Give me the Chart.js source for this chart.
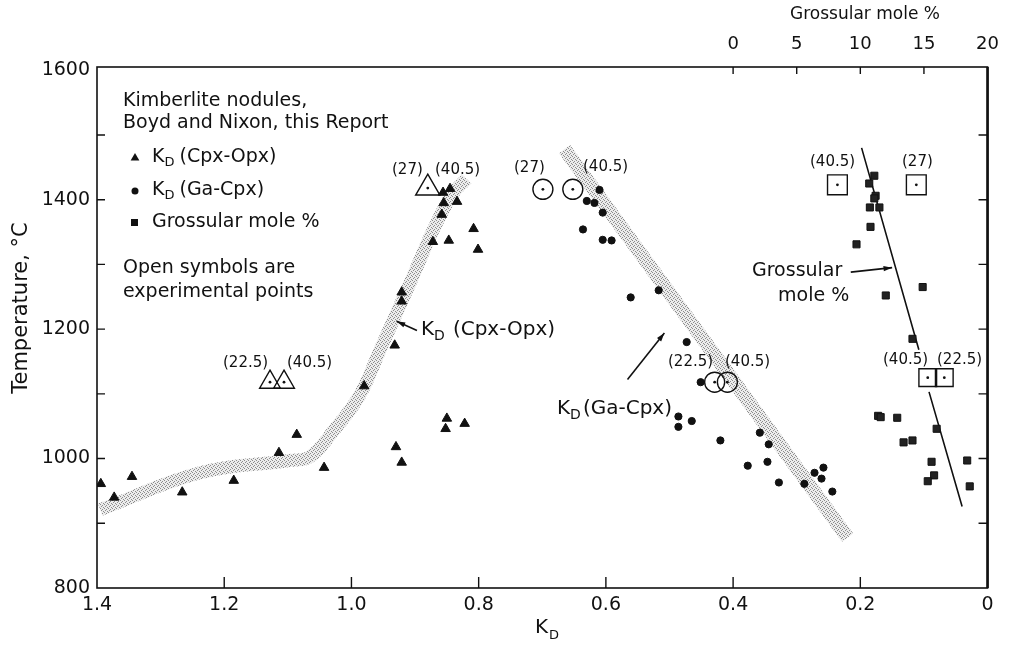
<!DOCTYPE html>
<html>
<head>
<meta charset="utf-8">
<script src="https://cdn.jsdelivr.net/npm/chart.js@4.4.1/dist/chart.umd.min.js"></script>
<style>
  html, body { margin: 0; padding: 0; background: #fff; }
  #wrap { width: 1011px; height: 648px; }
</style>
</head>
<body>
<div id="wrap"><canvas id="c" width="1011" height="648"></canvas></div>
<script>
// --- tick values
const kdTicks = [1.4, 1.2, 1.0, 0.8, 0.6, 0.4, 0.2, 0];
const grossTicks = [0, 5, 10, 15, 20];
const tempTicks = [800, 900, 1000, 1100, 1200, 1300, 1400, 1500, 1600];

// --- K_D (Cpx-Opx), kimberlite nodules (filled triangles)
const cpxOpxKd = [1.394, 1.373, 1.345, 1.266, 1.185, 1.114, 1.086, 1.043, 0.980, 0.932, 0.921, 0.921, 0.930, 0.921,
                  0.850, 0.852, 0.822, 0.872, 0.847, 0.858, 0.855, 0.834, 0.856, 0.845, 0.808, 0.801];
const cpxOpxT  = [961, 940, 972, 948, 966, 1009, 1037, 986, 1112, 1175, 1257, 1243, 1018, 994,
                  1062, 1046, 1054, 1335, 1337, 1377, 1395, 1397, 1411, 1417, 1355, 1323];

// --- K_D (Ga-Cpx) (filled circles)
const gaCpxKd = [0.610, 0.630, 0.618, 0.605, 0.636, 0.605, 0.591, 0.517, 0.561, 0.473, 0.451, 0.486, 0.486, 0.465,
                 0.420, 0.358, 0.344, 0.377, 0.346, 0.328, 0.288, 0.272, 0.258, 0.261, 0.244];
const gaCpxT  = [1415, 1398, 1395, 1380, 1354, 1338, 1337, 1260, 1249, 1180, 1118, 1065, 1049, 1058,
                 1028, 1040, 1022, 989, 995, 963, 961, 978, 986, 969, 949];

// --- grossular mole % (filled squares, top axis)
const grossG = [11.1, 10.7, 11.2, 11.1, 10.75, 11.5, 10.8, 9.7, 14.9, 12.0, 14.1, 11.4, 11.6, 12.9, 13.4, 14.1,
                16.0, 15.6, 15.8, 15.3, 18.4, 18.6];
const grossT = [1437, 1425, 1406, 1402, 1388, 1388, 1358, 1331, 1265, 1252, 1185, 1066, 1064, 1063, 1025, 1028,
                1046, 995, 974, 965, 997, 957];

// --- experimental points (open symbols)
const expTriKd = [1.128, 1.106, 0.880];
const expTriT  = [1118, 1118, 1418];
const expCircKd = [0.699, 0.652, 0.429, 0.409];
const expCircT  = [1416, 1416, 1118, 1118];
const expSqG = [8.2, 14.4, 15.3, 16.6];
const expSqT = [1423, 1423, 1125, 1125];

// --- trend bands / line
const cpxOpxBandKd = [1.395, 1.238, 1.097, 1.065, 1.029, 0.987, 0.955, 0.904, 0.872, 0.841, 0.819];
const cpxOpxBandT  = [921, 978, 997, 1003, 1042, 1098, 1168, 1280, 1352, 1409, 1432];
const gaCpxBandKd = [0.665, 0.220];
const gaCpxBandT  = [1478, 878];
const grossLineG = [10.1, 14.6, null, 15.4, 18.0];
const grossLineT = [1480, 1168, null, 1103, 926];

const pts = (xs, ys) => xs.map((x, i) => ({ x: x, y: ys[i] }));

const canvas = document.getElementById('c');
const ctx0 = canvas.getContext('2d');

// stippled grey for the bands
function stipple() {
  const c = document.createElement('canvas');
  c.width = 4; c.height = 4;
  const g = c.getContext('2d');
  g.fillStyle = '#ececec'; g.fillRect(0, 0, 4, 4);
  g.fillStyle = '#8c8c8c';
  [[0, 0], [2, 1], [1, 2], [3, 3]].forEach(([a, b]) => g.fillRect(a, b, 1, 1));
  return ctx0.createPattern(c, 'repeat');
}
const band = stipple();

const FONT = '"DejaVu Sans", "Liberation Sans", sans-serif';
const INK = '#111';

// text pieces drawn on top (pixel positions)
const notes = [
  ['Grossular mole %', 790, 15, 17],
  ['Kimberlite nodules,', 123, 101, 19],
  ['Boyd and Nixon, this Report', 123, 123, 19],
  ['Grossular mole %', 152, 222, 19],
  ['Open symbols are', 123, 268, 19],
  ['experimental points', 123, 292, 19],
  ['Grossular', 752, 271, 19],
  ['mole %', 778, 296, 19],
  ['(22.5)', 223, 363, 15], ['(40.5)', 287, 363, 15],
  ['(27)', 392, 170, 15], ['(40.5)', 435, 170, 15],
  ['(27)', 514, 168, 15], ['(40.5)', 583, 167, 15],
  ['(22.5)', 668, 362, 15], ['(40.5)', 725, 362, 15],
  ['(40.5)', 810, 162, 15], ['(27)', 902, 162, 15],
  ['(40.5)', 883, 360, 15], ['(22.5)', 937, 360, 15]
];
// K_D labels: [rest, x, y, size, gap]
const kdNotes = [
  ['(Cpx-Opx)', 152, 157, 19, 5],
  ['(Ga-Cpx)', 152, 190, 19, 5],
  ['(Cpx-Opx)', 421, 330, 20, 8],
  ['(Ga-Cpx)', 557, 409, 20, 2]
];
// arrows in data units: [axis, x0, y0, x1(tip), y1(tip)]
const arrows = [
  ['x', 0.897, 1198, 0.929, 1212],
  ['x', 0.566, 1122, 0.508, 1194],
  ['xG', 9.25, 1288, 12.5, 1295]
];

const decor = {
  id: 'decor',
  afterDraw(chart) {
    const { ctx, chartArea: a, scales } = chart;
    const X = scales.x, G = scales.xG, Y = scales.y;
    ctx.save();
    ctx.strokeStyle = INK;
    ctx.fillStyle = INK;

    // frame
    ctx.lineWidth = 1.6;
    ctx.strokeRect(a.left, a.top, a.right - a.left, a.bottom - a.top);
    ctx.lineWidth = 2.6;
    ctx.beginPath(); ctx.moveTo(a.right, a.top); ctx.lineTo(a.right, a.bottom); ctx.stroke();

    // inward ticks
    ctx.lineWidth = 1.4;
    ctx.beginPath();
    kdTicks.slice(1, -1).forEach(v => {
      const px = X.getPixelForValue(v);
      ctx.moveTo(px, a.bottom); ctx.lineTo(px, a.bottom - 11);
    });
    grossTicks.slice(0, -1).forEach(v => {
      const px = G.getPixelForValue(v);
      ctx.moveTo(px, a.top); ctx.lineTo(px, a.top + 7);
    });
    tempTicks.slice(1, -1).forEach(v => {
      const py = Y.getPixelForValue(v);
      ctx.moveTo(a.left, py); ctx.lineTo(a.left + 8, py);
      ctx.moveTo(a.right, py); ctx.lineTo(a.right - 9, py);
    });
    ctx.stroke();

    // axis titles
    ctx.font = '21px ' + FONT;
    ctx.textAlign = 'center'; ctx.textBaseline = 'middle';
    ctx.save();
    ctx.translate(22, 308);
    ctx.rotate(-Math.PI / 2);
    ctx.fillText('Temperature, \u00B0C', 0, 0);
    ctx.restore();
    ctx.font = '20px ' + FONT;
    ctx.textAlign = 'left';
    ctx.fillText('K', 535, 628);
    ctx.font = '13px ' + FONT;
    ctx.fillText('D', 549, 636);

    // notes
    ctx.textAlign = 'left'; ctx.textBaseline = 'middle';
    notes.forEach(([t, x, y, s]) => {
      ctx.font = s + 'px ' + FONT;
      ctx.fillText(t, x, y);
    });
    kdNotes.forEach(([t, x, y, s, gap]) => {
      ctx.font = s + 'px ' + FONT;
      ctx.fillText('K', x, y);
      const kw = ctx.measureText('K').width;
      ctx.font = Math.round(s * 0.68) + 'px ' + FONT;
      ctx.fillText('D', x + kw, y + 6);
      const dw = ctx.measureText('D').width;
      ctx.font = s + 'px ' + FONT;
      ctx.fillText(t, x + kw + dw + gap, y);
    });

    // legend symbols
    const tri = (x, y, r) => {
      ctx.beginPath();
      ctx.moveTo(x, y - r); ctx.lineTo(x + r * 0.87, y + r * 0.5); ctx.lineTo(x - r * 0.87, y + r * 0.5);
      ctx.closePath(); ctx.fill();
    };
    tri(135, 158, 5);
    ctx.beginPath(); ctx.arc(135, 191, 3.5, 0, Math.PI * 2); ctx.fill();
    ctx.fillRect(131, 219, 7, 7);

    // arrows
    ctx.lineWidth = 1.6;
    arrows.forEach(([ax, x0, y0, x1, y1]) => {
      const S = scales[ax];
      const p0x = S.getPixelForValue(x0), p0y = Y.getPixelForValue(y0);
      const p1x = S.getPixelForValue(x1), p1y = Y.getPixelForValue(y1);
      const ang = Math.atan2(p1y - p0y, p1x - p0x);
      ctx.beginPath(); ctx.moveTo(p0x, p0y); ctx.lineTo(p1x, p1y); ctx.stroke();
      ctx.beginPath();
      ctx.moveTo(p1x, p1y);
      ctx.lineTo(p1x - 9 * Math.cos(ang - 0.3), p1y - 9 * Math.sin(ang - 0.3));
      ctx.lineTo(p1x - 9 * Math.cos(ang + 0.3), p1y - 9 * Math.sin(ang + 0.3));
      ctx.closePath(); ctx.fill();
    });
    ctx.restore();
  }
};

const tickFont = { family: FONT, size: 19 };

new Chart(canvas, {
  type: 'scatter',
  data: {
    datasets: [
      { data: pts(cpxOpxBandKd, cpxOpxBandT), showLine: true, borderColor: band, borderWidth: 13,
        pointRadius: 0, tension: 0.4, order: 10 },
      { data: pts(gaCpxBandKd, gaCpxBandT), showLine: true, borderColor: band, borderWidth: 14,
        pointRadius: 0, order: 10 },
      { data: pts(grossLineG, grossLineT), xAxisID: 'xG', showLine: true, spanGaps: false,
        borderColor: INK, borderWidth: 1.6, pointRadius: 0, order: 5 },
      { data: pts(cpxOpxKd, cpxOpxT), pointStyle: 'triangle', pointRadius: 5.5,
        backgroundColor: INK, borderColor: INK, borderWidth: 1, order: 1 },
      { data: pts(gaCpxKd, gaCpxT), pointStyle: 'circle', pointRadius: 3.6,
        backgroundColor: INK, borderColor: INK, borderWidth: 1, order: 1 },
      { data: pts(grossG, grossT), xAxisID: 'xG', pointStyle: 'rect', pointRadius: 5,
        backgroundColor: '#222', borderColor: INK, borderWidth: 1, order: 1 },
      { data: pts(expTriKd, expTriT), pointStyle: 'triangle', pointRadius: [12, 12, 14],
        backgroundColor: 'rgba(255,255,255,0)', borderColor: INK, borderWidth: 1.4, order: 2 },
      { data: pts(expCircKd, expCircT), pointStyle: 'circle', pointRadius: 10,
        backgroundColor: 'rgba(255,255,255,0)', borderColor: INK, borderWidth: 1.4, order: 2 },
      { data: pts(expSqG, expSqT), xAxisID: 'xG', pointStyle: 'rect', pointRadius: [14, 14, 12.5, 12.5],
        backgroundColor: 'rgba(255,255,255,0)', borderColor: INK, borderWidth: 1.4, order: 2 },
      // centre dots of the open symbols
      { data: pts(expTriKd, expTriT), pointRadius: 1.4, backgroundColor: INK, borderWidth: 0, order: 0 },
      { data: pts(expCircKd, expCircT), pointRadius: 1.4, backgroundColor: INK, borderWidth: 0, order: 0 },
      { data: pts(expSqG, expSqT), xAxisID: 'xG', pointRadius: 1.4, backgroundColor: INK, borderWidth: 0, order: 0 }
    ]
  },
  options: {
    responsive: false,
    animation: false,
    events: [],
    layout: { padding: { left: 0, right: 23, top: 0, bottom: 0 } },
    plugins: { legend: { display: false }, tooltip: { enabled: false } },
    scales: {
      x: {
        type: 'linear', position: 'bottom', reverse: true, min: 0, max: 1.4,
        afterBuildTicks: s => { s.ticks = kdTicks.map(v => ({ value: v })); },
        afterFit: s => { s.height = 60; },
        grid: { display: false, drawTicks: false }, border: { display: false },
        ticks: { padding: 6, color: INK, font: tickFont, maxRotation: 0, autoSkip: false,
                 callback: v => (v === 0 ? '0' : v.toFixed(1)) }
      },
      xG: {
        type: 'linear', position: 'top', min: -50, max: 20,
        afterBuildTicks: s => { s.ticks = grossTicks.map(v => ({ value: v })); },
        afterFit: s => { s.height = 67; },
        grid: { display: false, drawTicks: false }, border: { display: false },
        ticks: { padding: 12, color: INK, font: { family: FONT, size: 18 }, maxRotation: 0, autoSkip: false }
      },
      y: {
        type: 'linear', position: 'left', min: 800, max: 1605,
        afterBuildTicks: s => { s.ticks = tempTicks.map(v => ({ value: v })); },
        afterFit: s => { s.width = 97; },
        grid: { display: false, drawTicks: false }, border: { display: false },
        ticks: { padding: 7, color: INK, font: tickFont, autoSkip: false,
                 callback: v => (v % 200 === 0 ? String(v) : '') }
      }
    }
  },
  plugins: [decor]
});
</script>
</body>
</html>
